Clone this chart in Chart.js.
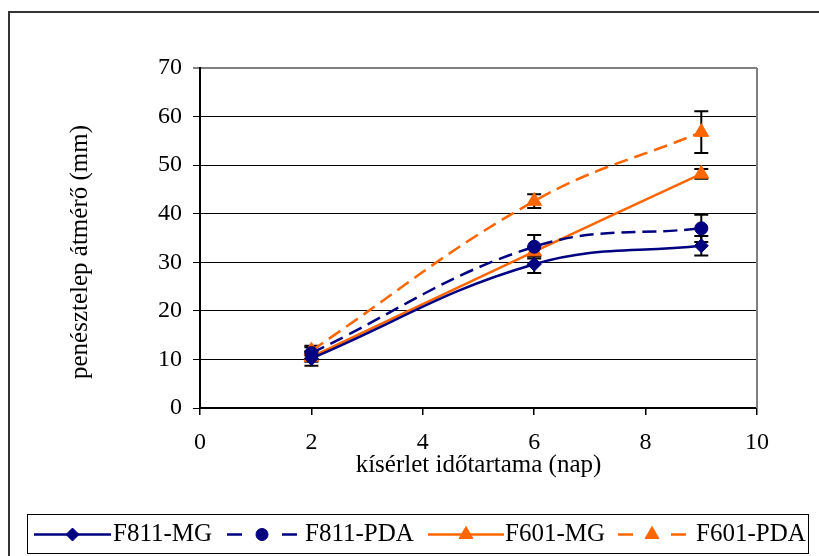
<!DOCTYPE html>
<html><head><meta charset="utf-8">
<script src="https://cdn.jsdelivr.net/npm/chart.js@4/dist/chart.umd.min.js"></script>
<style>html,body{margin:0;padding:0;background:#fff}#wrap{width:819px;height:556px;position:relative}</style>
</head><body><div id="wrap"><canvas id="c" width="819" height="556"></canvas></div>
<script>
// ---- data ----
const days = [2, 6, 9];
const seriesNames = ['F811-MG', 'F811-PDA', 'F601-MG', 'F601-PDA'];
const f811MG = [10.2, 29.6, 33.4];
const f811MGErr = [1.5, 1.8, 2.0];
const f811PDA = [11.3, 33.2, 37.0];
const f811PDAErr = [1.2, 2.4, 2.8];
const f601MG = [10.5, 32.2, 48.2];
const f601MGErr = [1.0, 1.0, 1.0];
const f601PDA = [11.8, 42.6, 56.8];
const f601PDAErr = [1.0, 1.4, 4.3];
const xTicks = [0, 2, 4, 6, 8, 10];
const yTicks = [0, 10, 20, 30, 40, 50, 60, 70];
const xTitle = 'kísérlet időtartama (nap)';
const yTitle = 'penésztelep átmérő (mm)';

const NAVY = '#000080', ORANGE = '#FF6600';
const FONT = "'Liberation Serif', 'Times New Roman', serif";

function pts(vals) { return days.map((d, i) => ({ x: d, y: vals[i] })); }
function ds(label, vals, errs, color, dashed, style, radius) {
  return {
    label, data: pts(vals), errors: errs,
    borderColor: color, backgroundColor: color,
    borderWidth: 2.5, borderDash: dashed ? [14, 7] : [],
    pointStyle: style, pointRadius: radius, pointHoverRadius: radius,
    pointBackgroundColor: color, pointBorderColor: color, pointBorderWidth: 1,
    tension: 0.4, fill: false, dashedSample: dashed
  };
}
const datasets = [
  ds(seriesNames[0], f811MG, f811MGErr, NAVY, false, 'rectRot', 7),
  ds(seriesNames[1], f811PDA, f811PDAErr, NAVY, true, 'circle', 6.5),
  ds(seriesNames[2], f601MG, f601MGErr, ORANGE, false, 'triangle', 8.5),
  ds(seriesNames[3], f601PDA, f601PDAErr, ORANGE, true, 'triangle', 8.5)
];

const framePlugin = {
  id: 'frame',
  beforeDraw(chart) {
    const ctx = chart.ctx;
    ctx.save();
    ctx.fillStyle = '#fff';
    ctx.fillRect(0, 0, chart.width, chart.height);
    ctx.strokeStyle = '#333';
    ctx.lineWidth = 2;
    ctx.strokeRect(9, 12, 830, 600);
    ctx.restore();
  },
  beforeDatasetsDraw(chart) {
    const { ctx, chartArea: a, scales: { x, y } } = chart;
    ctx.save();
    ctx.strokeStyle = '#808080';
    ctx.lineWidth = 2;
    ctx.beginPath();
    ctx.moveTo(a.right, a.top); ctx.lineTo(a.right, a.bottom); ctx.stroke();
    ctx.strokeStyle = '#000';
    ctx.lineWidth = 2;
    chart.data.datasets.forEach(d => {
      d.errors.forEach((e, j) => {
        const px = x.getPixelForValue(d.data[j].x);
        const v = d.data[j].y;
        const t = y.getPixelForValue(v + e), b = y.getPixelForValue(v - e);
        ctx.beginPath();
        ctx.moveTo(px, t); ctx.lineTo(px, b);
        ctx.moveTo(px - 7, t); ctx.lineTo(px + 7, t);
        ctx.moveTo(px - 7, b); ctx.lineTo(px + 7, b);
        ctx.stroke();
      });
    });
    ctx.restore();
  },
  afterDraw(chart) {
    const ctx = chart.ctx;
    ctx.save();
    // y-axis title
    ctx.save();
    ctx.translate(80, 252);
    ctx.rotate(-Math.PI / 2);
    ctx.font = '25px ' + FONT;
    ctx.fillStyle = '#000';
    ctx.textAlign = 'center';
    ctx.textBaseline = 'middle';
    ctx.fillText(yTitle, 0, 0);
    ctx.restore();
    // legend
    const bx = 27, by = 514, bw = 781, bh = 39;
    ctx.strokeStyle = '#000';
    ctx.lineWidth = 1;
    ctx.strokeRect(bx + 0.5, by + 0.5, bw, bh);
    ctx.font = '25px ' + FONT;
    ctx.textBaseline = 'middle';
    ctx.fillStyle = '#000';
    const cy = by + bh / 2 + 1;
    const lineStarts = [34, 227, 428, 618];
    const lineLen = [77, 70, 76, 68];
    const textStarts = [113, 305, 505, 696];
    chart.data.datasets.forEach((d, i) => {
      const x0 = lineStarts[i], x1 = x0 + lineLen[i], mx = (x0 + x1) / 2;
      ctx.strokeStyle = d.borderColor;
      ctx.lineWidth = 2.5;
      ctx.beginPath();
      if (d.dashedSample) {
        ctx.moveTo(x0, cy); ctx.lineTo(x0 + 15, cy);
        ctx.moveTo(x1 - 15, cy); ctx.lineTo(x1, cy);
      } else {
        ctx.moveTo(x0, cy); ctx.lineTo(x1, cy);
      }
      ctx.stroke();
      ctx.fillStyle = d.backgroundColor;
      ctx.lineWidth = 1;
      Chart.helpers.drawPoint(ctx, { pointStyle: d.pointStyle, radius: d.pointRadius - 0.5, rotation: 0, borderWidth: 1 }, mx, cy);
      ctx.fillStyle = '#000';
      ctx.fillText(d.label, textStarts[i], cy);
    });
    ctx.restore();
  }
};

new Chart(document.getElementById('c'), {
  type: 'line',
  data: { datasets },
  options: {
    responsive: false,
    devicePixelRatio: 1,
    animation: false,
    layout: { padding: { left: 0, right: 62, top: 68, bottom: 76 } },
    plugins: { legend: { display: false }, tooltip: { enabled: false } },
    scales: {
      x: {
        type: 'linear', min: 0, max: 10,
        afterBuildTicks(s) { s.ticks = xTicks.map(v => ({ value: v })); },
        afterFit(s) { s.height = 72; },
        grid: { drawOnChartArea: false, drawTicks: true, tickLength: 7, color: '#000', lineWidth: 1.5 },
        border: { display: true, color: '#000', width: 1.5 },
        ticks: { color: '#000', font: { family: FONT, size: 24 }, padding: 13, maxRotation: 0 },
        title: { display: true, text: xTitle, color: '#000', font: { family: FONT, size: 25 }, padding: 0 }
      },
      y: {
        type: 'linear', min: 0, max: 70,
        afterBuildTicks(s) { s.ticks = yTicks.map(v => ({ value: v })); },
        afterFit(s) { s.width = 200; },
        grid: {
          color: c => c.tick && c.tick.value === 70 ? '#808080' : '#000',
          lineWidth: c => c.tick && c.tick.value === 70 ? 2 : 1,
          tickLength: 7
        },
        border: { display: true, color: '#000', width: 2 },
        ticks: { color: '#000', font: { family: FONT, size: 24 }, padding: 11 },
        title: { display: false }
      }
    }
  },
  plugins: [framePlugin]
});
</script>
</body></html>
